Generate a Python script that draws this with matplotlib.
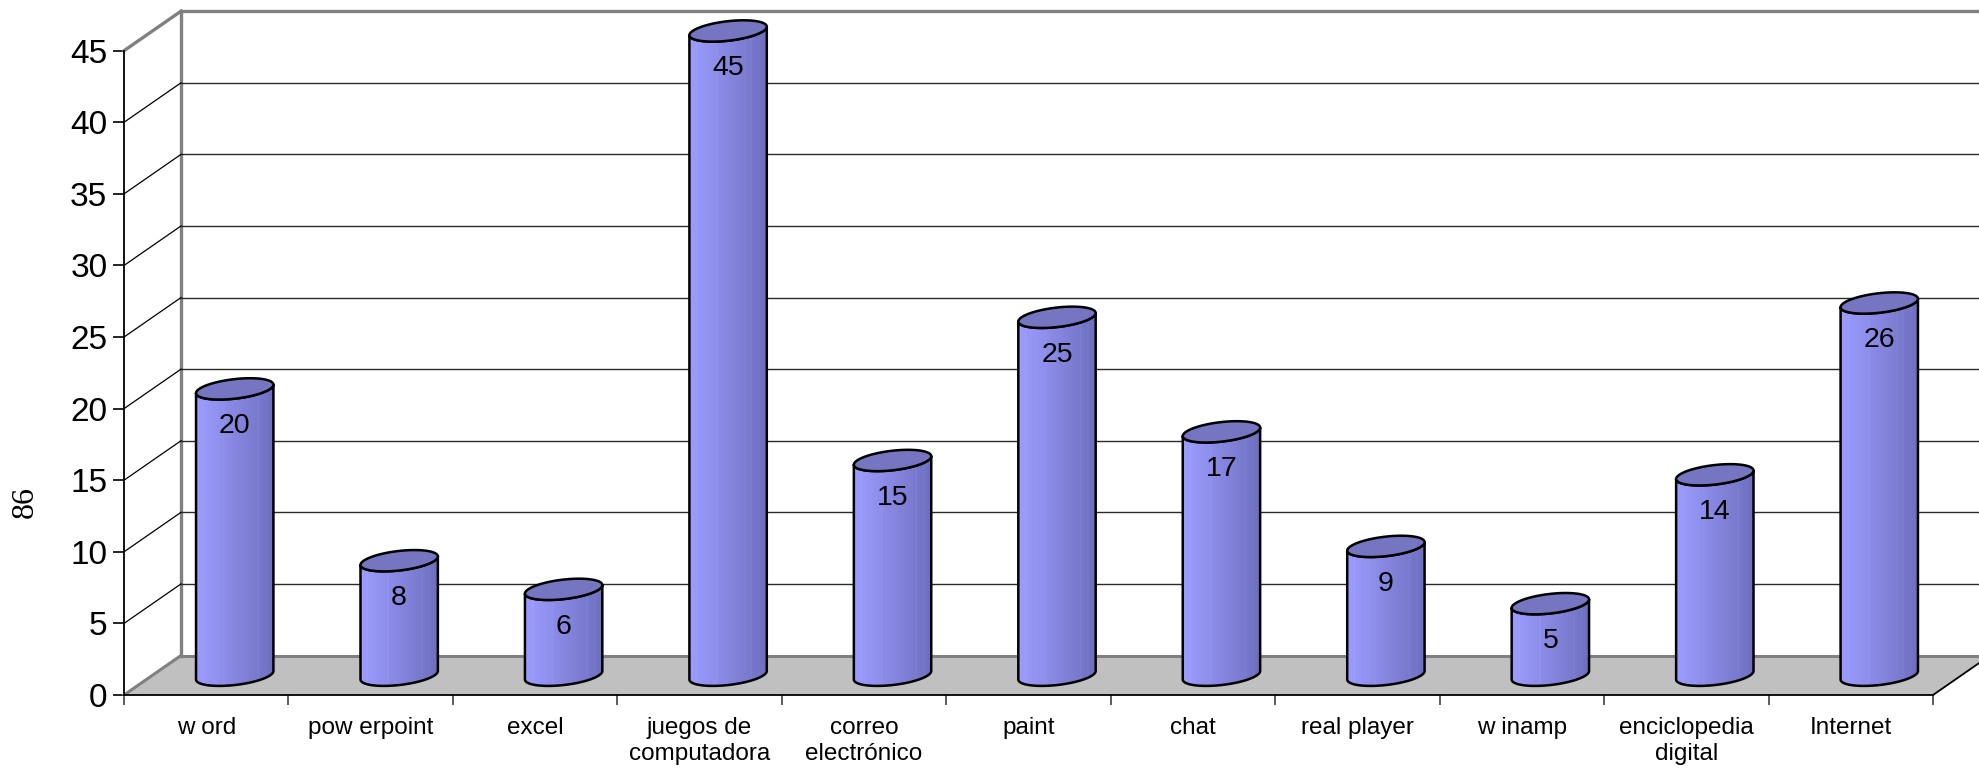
import numpy as np
import matplotlib
matplotlib.use("Agg")
import matplotlib.pyplot as plt
from matplotlib.patches import Polygon

plt.rcParams["font.family"] = ["Liberation Sans", "DejaVu Sans"]

# ---- data ----
categories = ["w ord", "pow erpoint", "excel", "juegos de\ncomputadora",
              "correo\nelectrónico", "paint", "chat", "real player",
              "w inamp", "enciclopedia\ndigital", "Internet"]
values = [20, 8, 6, 45, 15, 25, 17, 9, 5, 14, 26]
y_ticks = [0, 5, 10, 15, 20, 25, 30, 35, 40, 45]
page_mark = "86"

# ---- figure / axes (front plane of the pseudo-3D box) ----
W, H, DPI = 1979, 771, 100
fig = plt.figure(figsize=(W / DPI, H / DPI), dpi=DPI)
ax = fig.add_axes([124 / W, (H - 695) / H, 1809 / W, 644.3 / H])
ymax = y_ticks[-1]
n = len(categories)
ax.set_xlim(0, n)
ax.set_ylim(0, ymax)

# depth offset of the back wall, in data units
DX = 57 / (1809 / n)
DY = 39.5 / (644.3 / ymax)

wall_gray = "#808080"
grid_col = "#2a2a2a"

# floor
floor = Polygon([(0, 0), (n, 0), (n + DX, DY), (DX + 20, DY), (DX, DY)],
                closed=True, facecolor="#C0C0C0", edgecolor="none",
                zorder=1, clip_on=False)
ax.add_patch(floor)
ax.plot([DX, n + 5], [DY, DY], color=wall_gray, lw=2.2, zorder=2, clip_on=False)
ax.plot([0, DX], [0, DY], color=wall_gray, lw=2.2, zorder=2, clip_on=False)
ax.plot([n, n + DX], [0, DY], color="black", lw=1.3, zorder=2, clip_on=False)

# back wall frame
ax.plot([DX, DX], [DY, ymax + DY], color=wall_gray, lw=2.4, zorder=2, clip_on=False)
ax.plot([DX, n + 5], [ymax + DY, ymax + DY], color=wall_gray, lw=2.4, zorder=2, clip_on=False)
ax.plot([0, DX], [ymax, ymax + DY], color=wall_gray, lw=2.4, zorder=2, clip_on=False)

# gridlines on back wall and side wall
for v in y_ticks[1:-1]:
    ax.plot([DX, n + 5], [v + DY, v + DY], color=grid_col, lw=1.0, zorder=2, clip_on=False)
    ax.plot([0, DX], [v, v + DY], color="black", lw=0.9, zorder=2, clip_on=False)

# ---- cylinders ----
RX = 35.5 / (1809 / n)    # half width
DEPTH = 0.27              # depth radius as fraction of the wall offset
t0 = np.arctan2(DEPTH * DX, RX)


def ellipse(cx, cy, t):
    return (cx + RX * np.cos(t) + DEPTH * DX * np.sin(t),
            cy + DEPTH * DY * np.sin(t))


# horizontal shading across the cylinder body
u = np.linspace(0, 1, 200)
c_left = np.array([0x9C, 0x9C, 0xFF]) / 255
c_right = np.array([0x6E, 0x6E, 0xBE]) / 255
w = u ** 1.1
shade = c_left[None, :] * (1 - w[:, None]) + c_right[None, :] * w[:, None]
for s in (0.1, 0.36, 0.8, 0.9):
    k = int(s * 199)
    shade[k] = np.clip(shade[k] + 0.06, 0, 1)
grad = shade[None, :, :]

for i, v in enumerate(values):
    cx = i + 0.5 + DX / 2
    base = DY / 2
    top = v + DY / 2
    tt_front = np.linspace(t0, t0 - np.pi, 80)
    bx, by = ellipse(cx, base, tt_front)
    tx, ty = ellipse(cx, top, tt_front[::-1])
    body_xy = np.column_stack([np.concatenate([bx, tx]), np.concatenate([by, ty])])
    body = Polygon(body_xy, closed=True, facecolor="none", edgecolor="black",
                   lw=1.8, zorder=5, joinstyle="round", clip_on=False)
    ax.add_patch(body)
    xl, xr = body_xy[:, 0].min(), body_xy[:, 0].max()
    im = ax.imshow(grad, extent=[xl, xr, base - 2, top + 2], aspect="auto",
                   origin="lower", zorder=4, interpolation="bilinear")
    clip = Polygon(body_xy, closed=True, transform=ax.transData)
    im.set_clip_path(clip)
    im.set_clip_box(fig.bbox)
    tt = np.linspace(0, 2 * np.pi, 120)
    ex, ey = ellipse(cx, top, tt)
    cap = Polygon(np.column_stack([ex, ey]), closed=True, facecolor="#7575C2",
                  edgecolor="black", lw=1.8, zorder=6, clip_on=False)
    ax.add_patch(cap)
    ax.text(cx, top - 2.6, str(v), ha="center", va="center", fontsize=20.5,
            color="black", zorder=7, clip_on=False)

ax.set_xlim(0, n)
ax.set_ylim(0, ymax)

# ---- axes styling ----
for side in ("top", "right"):
    ax.spines[side].set_visible(False)
ax.spines["left"].set_color("black")
ax.spines["left"].set_linewidth(1.3)
ax.spines["bottom"].set_color("black")
ax.spines["bottom"].set_linewidth(1.3)
ax.spines["left"].set_zorder(3)
ax.spines["bottom"].set_zorder(3)
ax.patch.set_visible(False)

ax.set_yticks(y_ticks)
ax.set_yticklabels([str(t) for t in y_ticks])
ax.tick_params(axis="y", direction="out", length=8, width=1.2, pad=4,
               labelsize=24, color="black")

ax.set_xticks(np.arange(n) + 0.5)
ax.set_xticklabels(categories, linespacing=1.25)
ax.set_xticks(np.arange(n + 1), minor=True)
ax.tick_params(axis="x", which="major", length=0, pad=16, labelsize=17.5)
ax.tick_params(axis="x", which="minor", direction="out", length=7, width=1.2,
               color="#404040")

fig.text(25 / W, 1 - 502 / H, page_mark, rotation=90, ha="center", va="center",
         fontsize=23, family=["Liberation Serif", "DejaVu Serif"])

fig.savefig("out.png", dpi=DPI)
